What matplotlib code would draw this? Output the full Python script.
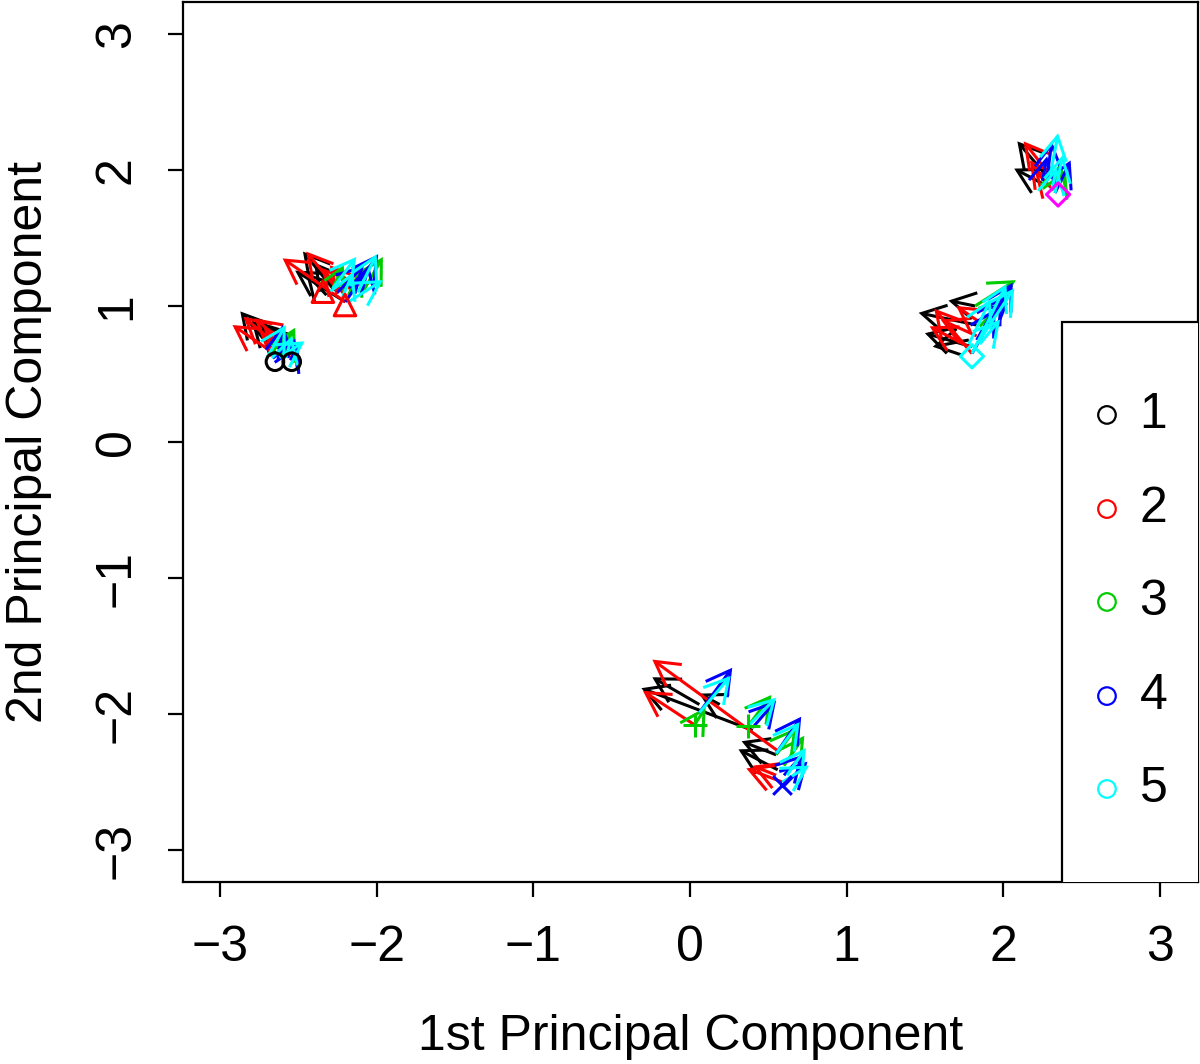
import matplotlib
matplotlib.use("Agg")
import matplotlib.pyplot as plt
from matplotlib.patches import FancyArrowPatch, Rectangle

plt.rcParams['font.family'] = ['Liberation Sans', 'DejaVu Sans']

# colour index 1..6 as in R's default palette
palette = {1: 'black', 2: '#FF0000', 3: '#00CD00', 4: '#0000FF', 5: '#00FFFF', 6: '#FF00FF'}

# arrows: start (x0, y0) -> end (x1, y1), group colour
arrow_x0 = [
    # cluster A
    -2.62, -2.60, -2.55, -2.64, -2.58, -2.56, -2.55, -2.62, -2.60, -2.63, -2.57, -2.55, -2.70, -2.62, -2.58,
    # cluster B
    -2.20, -2.28, -2.25, -2.32, -2.20, -2.25, -2.18, -2.15, -2.28, -2.08, -2.18, -2.20, -2.25, -2.10, -2.28, -2.18, -2.12, -2.22,
    # cluster C
    2.28, 2.25, 2.30, 2.28, 2.32, 2.32, 2.36, 2.28, 2.33, 2.25, 2.30, 2.33, 2.31,
    # cluster D
    1.83, 1.80, 1.82, 1.78, 1.80, 1.83, 1.85, 1.78, 1.82, 1.85, 1.80, 1.83, 1.86, 1.90, 1.80, 1.82, 1.78, 1.85,
    # cluster E
    0.40, 0.06, 0.19, 0.56, 0.55, 0.03, 0.56, 0.59, 0.55, 0.03, 0.37, 0.60, 0.55, 0.06, 0.40, 0.55, 0.59, 0.60,
    0.06, 0.37, 0.55, 0.59, 0.62,
]
arrow_y0 = [
    0.62, 0.66, 0.64, 0.64, 0.66, 0.70, 0.62, 0.62, 0.64, 0.60, 0.62, 0.60, 0.62, 0.62, 0.62,
    1.03, 1.13, 1.10, 1.08, 1.03, 1.12, 1.05, 1.10, 1.13, 1.12, 1.08, 1.03, 1.10, 1.08, 1.13, 1.03, 1.10, 1.06,
    1.95, 1.90, 1.96, 1.90, 1.85, 1.85, 1.90, 1.95, 1.83, 1.92, 1.96, 1.83, 1.85,
    0.86, 0.70, 1.00, 0.75, 0.65, 0.78, 0.88, 0.70, 1.00, 0.85, 0.65, 0.75, 0.80, 0.90, 0.65, 0.70, 0.72, 0.72,
    -2.12, -1.93, -1.93, -2.41, -2.30, -2.08, -2.27, -2.50, -2.45, -2.08, -2.09, -2.38, -2.30, -1.99, -2.10, -2.29, -2.54, -2.45,
    -1.99, -2.09, -2.29, -2.50, -2.45,
]
arrow_x1 = [
    -2.87, -2.80, -2.75, -2.92, -2.85, -2.78, -2.72, -2.52, -2.55, -2.60, -2.52, -2.50, -2.58, -2.46, -2.54,
    -2.52, -2.47, -2.40, -2.45, -2.60, -2.45, -2.35, -2.30, -2.21, -1.96, -2.10, -1.99, -2.08, -2.05, -2.13, -1.96, -2.00, -2.15,
    2.09, 2.07, 2.13, 2.17, 2.20, 2.37, 2.40, 2.31, 2.43, 2.28, 2.35, 2.38, 2.34,
    1.46, 1.50, 1.65, 1.55, 1.56, 1.60, 1.70, 1.53, 2.08, 2.02, 2.06, 1.99, 1.95, 2.03, 2.02, 2.07, 1.92, 1.98,
    -0.31, -0.24, 0.06, 0.31, 0.33, -0.30, -0.24, 0.36, 0.40, 0.10, 0.52, 0.73, 0.68, 0.27, 0.55, 0.71, 0.75, 0.72,
    0.26, 0.55, 0.70, 0.76, 0.74,
]
arrow_y1 = [
    0.96, 0.90, 0.86, 0.86, 0.92, 0.91, 0.84, 0.84, 0.80, 0.86, 0.76, 0.72, 0.86, 0.74, 0.78,
    1.26, 1.40, 1.32, 1.24, 1.35, 1.40, 1.28, 1.30, 1.30, 1.36, 1.28, 1.38, 1.30, 1.30, 1.36, 1.19, 1.38, 1.25,
    2.21, 2.01, 2.21, 2.07, 2.00, 2.05, 2.00, 2.21, 2.07, 2.10, 2.27, 2.11, 2.02,
    0.95, 0.80, 1.04, 0.70, 0.98, 0.90, 1.00, 0.85, 1.19, 1.06, 1.17, 1.07, 0.98, 1.02, 1.16, 1.13, 1.05, 0.90,
    -1.81, -1.73, -1.85, -2.26, -2.20, -1.83, -1.60, -2.40, -2.38, -1.95, -1.86, -2.16, -2.10, -1.66, -1.90, -2.02, -2.35, -2.30,
    -1.72, -1.88, -2.06, -2.38, -2.25,
]
arrow_group = [
    1, 1, 1, 2, 2, 2, 2, 3, 3, 4, 4, 4, 5, 5, 5,
    1, 1, 1, 1, 2, 2, 2, 2, 3, 3, 3, 4, 4, 4, 5, 5, 5, 5,
    1, 1, 2, 2, 2, 3, 3, 4, 4, 4, 5, 5, 5,
    1, 1, 1, 1, 2, 2, 2, 2, 3, 3, 4, 4, 4, 4, 5, 5, 5, 5,
    1, 1, 1, 1, 1, 2, 2, 2, 2, 3, 3, 3, 3, 4, 4, 4, 4, 4,
    5, 5, 5, 5, 5,
]

# point symbols
circle_x = [-2.649, -2.542]
circle_y = [0.590, 0.590]
triangle_x = [-2.343, -2.202]
triangle_y = [1.105, 1.007]
diamond_x = [2.35, 1.80]
diamond_y = [1.82, 0.63]
diamond_group = [6, 5]
plus_x = [0.03, 0.37]
plus_y = [-2.08, -2.09]
cross_x = [0.59]
cross_y = [-2.52]

legend_labels = ['1', '2', '3', '4', '5']
legend_y = [0.199, -0.493, -1.176, -1.868, -2.551]

xticks = [-3, -2, -1, 0, 1, 2, 3]
yticks = [-3, -2, -1, 0, 1, 2, 3]

fig = plt.figure(figsize=(12, 10.64), dpi=100)
ax = fig.add_axes([183/1200, 1 - 882/1064, (1198-183)/1200, (882-2)/1064])
ax.set_xlim(-3.236, 3.243)
ax.set_ylim(-3.235, 3.235)

lw = 2.2
for x0, y0, x1, y1, g in zip(arrow_x0, arrow_y0, arrow_x1, arrow_y1, arrow_group):
    a = FancyArrowPatch((x0, y0), (x1, y1), arrowstyle='->,head_length=0.85,head_width=0.48',
                        mutation_scale=20, shrinkA=0, shrinkB=0, color=palette[g], lw=lw,
                        joinstyle='miter', capstyle='butt')
    ax.add_patch(a)

ax.scatter(circle_x, circle_y, s=160, facecolors='none', edgecolors=palette[1], linewidths=lw, zorder=3)
ax.scatter(triangle_x, triangle_y, s=240, marker='^', facecolors='none', edgecolors=palette[2], linewidths=lw, zorder=3)
ax.scatter(diamond_x, diamond_y, s=140, marker='D', facecolors='none',
           edgecolors=[palette[g] for g in diamond_group], linewidths=lw, zorder=3)
ax.scatter(plus_x, plus_y, s=300, marker='+', color=palette[3], linewidths=lw, zorder=3)
ax.scatter(cross_x, cross_y, s=180, marker='x', color=palette[4], linewidths=lw, zorder=3)

# legend box (extends past the plotting region and is clipped)
ax.add_patch(Rectangle((2.374, -4.0), 3.0, 0.882 + 4.0, facecolor='white', edgecolor='black', lw=1.6, zorder=4))
for i, (lab, yy) in enumerate(zip(legend_labels, legend_y)):
    ax.scatter([2.662], [yy], s=160, facecolors='none', edgecolors=palette[i + 1], linewidths=1.6, zorder=5)
    ax.text(2.87, yy, lab, fontsize=36, va='center', ha='left', zorder=5)

ax.set_xticks(xticks)
ax.set_yticks(yticks)
ax.set_xticklabels(['\u22123', '\u22122', '\u22121', '0', '1', '2', '3'], fontsize=36)
ax.set_yticklabels(['\u22123', '\u22122', '\u22121', '0', '1', '2', '3'], fontsize=36, rotation=90, va='center')
ax.tick_params(axis='both', length=11, width=1.6, pad=20)
for s in ax.spines.values():
    s.set_linewidth(1.6)
ax.set_xlabel('1st Principal Component', fontsize=36, labelpad=31)
ax.set_ylabel('2nd Principal Component', fontsize=36, labelpad=30)

fig.savefig('out.png', dpi=100)
